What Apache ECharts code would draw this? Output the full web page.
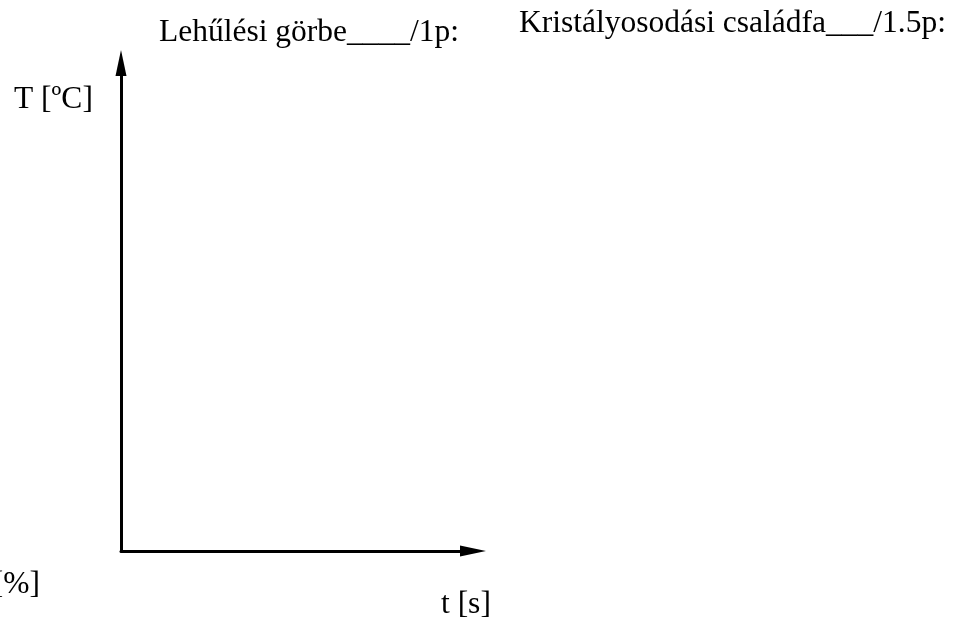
<!DOCTYPE html>
<html>
<head>
<meta charset="utf-8">
<script src="https://cdn.jsdelivr.net/npm/echarts@6/dist/echarts.min.js"></script>
<style>html,body{margin:0;padding:0;background:#fff;}#c{width:957px;height:619px;}</style>
</head>
<body>
<div id="c"></div>
<script>
// Text content of the chart
const titleLeft = 'Lehűlési görbe____/1p:';
const titleRight = 'Kristályosodási családfa___/1.5p:';
const yAxisName = 'T [ºC]';
const xAxisName = 't [s]';
const sideName = '[%]';
// The empty cooling-curve worksheet has no plotted values
const timeValues = [];
const tempValues = [];

const font = 'Liberation Serif, Times New Roman, serif';
const ts = { fontFamily: font, fontSize: 31.5, fontWeight: 'normal', color: '#000' };

const chart = echarts.init(document.getElementById('c'), null, { renderer: 'canvas' });
chart.setOption({
  backgroundColor: '#fff',
  animation: false,
  title: [
    { text: titleLeft, left: 159, top: 17, padding: 0, textStyle: ts },
    { text: titleRight, left: 519, top: 8, padding: 0, textStyle: ts },
    { text: yAxisName, left: 14, top: 84, padding: 0, textStyle: ts },
    { text: xAxisName, left: 441, top: 589, padding: 0, textStyle: ts },
    { text: sideName, right: 917, top: 569, padding: 0, textStyle: ts }
  ],
  grid: { left: 121, right: 484, top: 63, bottom: 68, containLabel: false },
  xAxis: {
    type: 'value', min: 0, max: 1,
    axisLine: { show: true, lineStyle: { color: '#000', width: 3 }, symbol: ['none', 'triangle'], symbolSize: [11, 26] },
    axisTick: { show: false }, axisLabel: { show: false }, splitLine: { show: false }
  },
  yAxis: {
    type: 'value', min: 0, max: 1,
    axisLine: { show: true, lineStyle: { color: '#000', width: 3 }, symbol: ['none', 'triangle'], symbolSize: [11, 26] },
    axisTick: { show: false }, axisLabel: { show: false }, splitLine: { show: false }
  },
  series: [{
    type: 'line', data: timeValues.map((t, i) => [t, tempValues[i]]), showSymbol: false,
    lineStyle: { color: '#000' }
  }]
});
</script>
</body>
</html>
